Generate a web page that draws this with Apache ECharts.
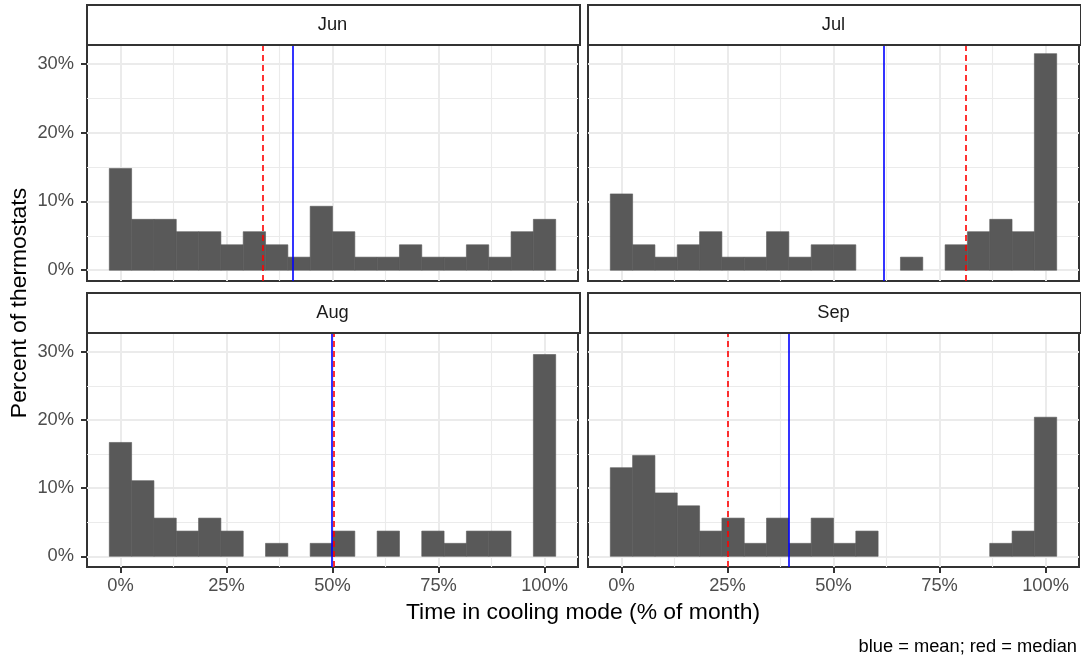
<!DOCTYPE html>
<html><head><meta charset="utf-8">
<script src="https://cdn.jsdelivr.net/npm/echarts@6/dist/echarts.min.js"></script>
<style>html,body{margin:0;padding:0;background:#fff}#c{width:1081px;height:661px}</style>
</head><body><div id="c"></div>
<script>
// ---- data ----
const months = ['Jun', 'Jul', 'Aug', 'Sep'];
const binCenters = [0, 5.26, 10.53, 15.79, 21.05, 26.32, 31.58, 36.84, 42.11, 47.37,
                    52.63, 57.89, 63.16, 68.42, 73.68, 78.95, 84.21, 89.47, 94.74, 100];
const binWidth = 5.263;
const junPct = [14.8, 7.4, 7.4, 5.6, 5.6, 3.7, 5.6, 3.7, 1.9, 9.3, 5.6, 1.9, 1.9, 3.7, 1.9, 1.9, 3.7, 1.9, 5.6, 7.4];
const julPct = [11.1, 3.7, 1.9, 3.7, 5.6, 1.9, 1.9, 5.6, 1.9, 3.7, 3.7, 0, 0, 1.9, 0, 3.7, 5.6, 7.4, 5.6, 31.5];
const augPct = [16.7, 11.1, 5.6, 3.7, 5.6, 3.7, 0, 1.9, 0, 1.9, 3.7, 0, 3.7, 0, 3.7, 1.9, 3.7, 3.7, 0, 29.6];
const sepPct = [13.0, 14.8, 9.3, 7.4, 3.7, 5.6, 1.9, 5.6, 1.9, 5.6, 1.9, 3.7, 0, 0, 0, 0, 0, 1.9, 3.7, 20.4];
const meanPct = [40.7, 61.9, 49.8, 39.4];
const medianPct = [33.6, 81.1, 50.2, 25.0];
const xTicks = [0, 25, 50, 75, 100];
const xMinorTicks = [12.5, 37.5, 62.5, 87.5];
const yTicks = [0, 10, 20, 30];
const yMinorTicks = [5, 15, 25];
const xTitle = 'Time in cooling mode (% of month)';
const yTitle = 'Percent of thermostats';
const caption = 'blue = mean; red = median';

// ---- layout / style ----
const allPct = [junPct, julPct, augPct, sepPct];
const FONT = 'Liberation Sans, Arial, sans-serif';
const xMin = -7.89, xMax = 107.89, yMin = -1.57, yMax = 33.05;
const grids = [
  {left: 87, top: 43, width: 491, height: 238},
  {left: 588, top: 43, width: 491, height: 238},
  {left: 87, top: 331, width: 491, height: 236},
  {left: 588, top: 331, width: 491, height: 236}
];
const stripH = 38;

const xAxes = [], yAxes = [], series = [], graphics = [];
grids.forEach((g, i) => {
  const bottomRow = i >= 2, leftCol = i % 2 === 0;
  xAxes.push({
    gridIndex: i, type: 'value', min: xMin, max: xMax, position: 'bottom',
    axisLine: {show: false, onZero: false},
    axisTick: {show: bottomRow, customValues: xTicks, length: 6, lineStyle: {color: '#333333', width: 2}},
    axisLabel: {show: bottomRow, customValues: xTicks, formatter: v => v + '%', fontSize: 18.3,
                color: '#4D4D4D', fontFamily: FONT, margin: 10},
    splitLine: {show: true, lineStyle: {color: '#EBEBEB', width: 2}}
  });
  xAxes.push({
    gridIndex: i, type: 'value', min: xMin, max: xMax, position: 'top',
    axisLine: {show: false, onZero: false},
    axisTick: {show: false, customValues: xMinorTicks},
    axisLabel: {show: false},
    splitLine: {show: true, lineStyle: {color: '#EBEBEB', width: 1.1}}
  });
  yAxes.push({
    gridIndex: i, type: 'value', min: yMin, max: yMax, position: 'left',
    axisLine: {show: false, onZero: false},
    axisTick: {show: leftCol, customValues: yTicks, length: 6, lineStyle: {color: '#333333', width: 2}},
    axisLabel: {show: leftCol, customValues: yTicks, formatter: v => v + '%', fontSize: 18.3,
                color: '#4D4D4D', fontFamily: FONT, margin: 13},
    splitLine: {show: true, lineStyle: {color: '#EBEBEB', width: 2}}
  });
  yAxes.push({
    gridIndex: i, type: 'value', min: yMin, max: yMax, position: 'right',
    axisLine: {show: false, onZero: false},
    axisTick: {show: false, customValues: yMinorTicks},
    axisLabel: {show: false},
    splitLine: {show: true, lineStyle: {color: '#EBEBEB', width: 1.1}}
  });
  const data = binCenters.map((c, k) => [c, allPct[i][k]]).filter(d => d[1] > 0);
  series.push({
    type: 'custom', xAxisIndex: 2 * i, yAxisIndex: 2 * i, z: 2, silent: true,
    data: data,
    renderItem: (params, api) => {
      const c = api.value(0), v = api.value(1);
      const p0 = api.coord([c - binWidth / 2, v]);
      const p1 = api.coord([c + binWidth / 2, 0]);
      return {type: 'rect', shape: {x: p0[0], y: p0[1], width: p1[0] - p0[0], height: p1[1] - p0[1]},
              style: {fill: '#595959', stroke: '#595959', lineWidth: 0.6}};
    }
  });
  series.push({
    type: 'line', xAxisIndex: 2 * i, yAxisIndex: 2 * i, data: [], z: 3,
    markLine: {silent: true, symbol: 'none', label: {show: false}, animation: false,
      lineStyle: {color: '#0000FF', type: 'solid', width: 1.6},
      data: [{xAxis: meanPct[i]}]}
  });
  series.push({
    type: 'line', xAxisIndex: 2 * i, yAxisIndex: 2 * i, data: [], z: 4,
    markLine: {silent: true, symbol: 'none', label: {show: false}, animation: false,
      lineStyle: {color: '#FF0000', type: [6, 4], width: 1.6},
      data: [{xAxis: medianPct[i]}]}
  });
  graphics.push({
    type: 'rect', left: g.left - 1, top: g.top - stripH - 1,
    shape: {width: g.width + 2, height: stripH + 2},
    style: {fill: '#ffffff', stroke: '#333333', lineWidth: 2}, z: 10
  });
  graphics.push({
    type: 'text', x: g.left + g.width / 2, y: g.top - stripH / 2 + 1,
    style: {text: months[i], fontSize: 18.3, fontFamily: FONT, fill: '#1A1A1A',
            textAlign: 'center', textVerticalAlign: 'middle'}, z: 11
  });
});

graphics.push({
  type: 'text', x: 583, y: 613,
  style: {text: xTitle, fontSize: 22.9, fontFamily: FONT, fill: '#000000',
          textAlign: 'center', textVerticalAlign: 'middle'}
});
graphics.push({
  type: 'text', x: 20, y: 303, rotation: Math.PI / 2,
  style: {text: yTitle, fontSize: 22.9, fontFamily: FONT, fill: '#000000',
          textAlign: 'center', textVerticalAlign: 'middle'}
});
graphics.push({
  type: 'text', x: 1077, y: 647,
  style: {text: caption, fontSize: 18.3, fontFamily: FONT, fill: '#000000',
          textAlign: 'right', textVerticalAlign: 'middle'}
});

const chart = echarts.init(document.getElementById('c'), null, {renderer: 'canvas'});
chart.setOption({
  animation: false,
  backgroundColor: '#ffffff',
  grid: grids.map(g => Object.assign({show: true, borderColor: '#333333', borderWidth: 2,
                                       backgroundColor: 'transparent', containLabel: false}, g)),
  xAxis: xAxes,
  yAxis: yAxes,
  series: series,
  graphic: graphics
});
</script></body></html>
